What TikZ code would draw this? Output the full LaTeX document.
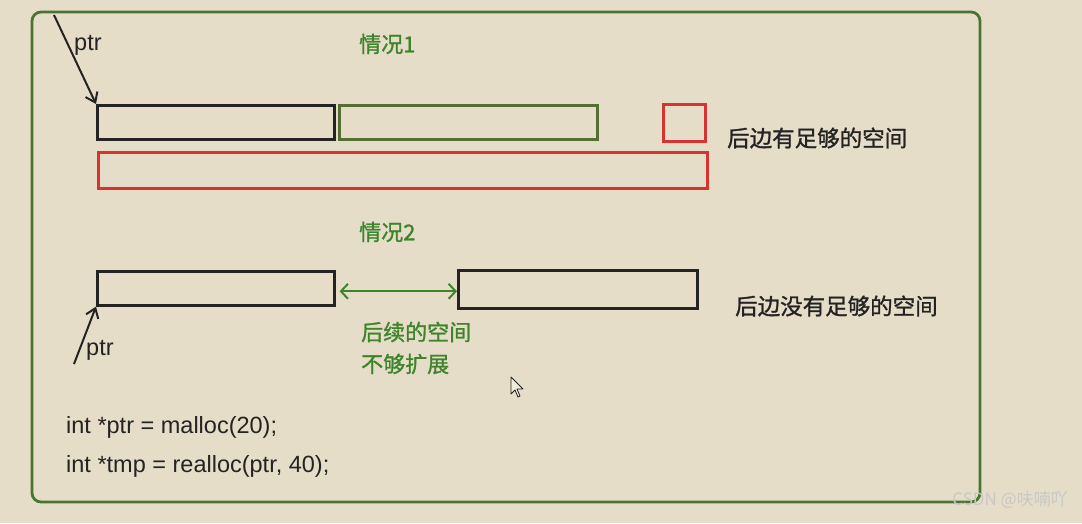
\documentclass[tikz,border=0pt]{standalone}
\usepackage{fontspec}
\setmainfont{Liberation Sans}
\newfontfamily\cjk[FakeBold=1.2]{Noto Sans CJK SC}
\newfontfamily\cjkthin{Noto Sans CJK SC}
\usetikzlibrary{arrows.meta}
\definecolor{bg}{RGB}{229,221,199}
\definecolor{frameg}{RGB}{72,118,50}
\definecolor{boxg}{RGB}{84,110,52}
\definecolor{txtg}{RGB}{62,132,44}
\definecolor{redb}{RGB}{214,52,48}
\definecolor{ink}{RGB}{35,35,35}
\definecolor{wmark}{RGB}{200,200,200}
\tikzset{
  box/.style={draw=ink, line width=2.6pt, inner sep=0pt, anchor=north west},
  gbox/.style={box, draw=boxg},
  rbox/.style={box, draw=redb},
  cjklabel/.style={font=\cjk\fontsize{22.5}{26}\selectfont, text=ink, anchor=west, inner sep=0pt},
  greenlabel/.style={font=\cjk\fontsize{22}{26}\selectfont, text=txtg, anchor=west, inner sep=0pt},
  latin/.style={font=\fontsize{23.5}{26}\selectfont, text=ink, anchor=west, inner sep=0pt},
  ptrarrow/.style={draw=ink, line width=2pt, -{Straight Barb[length=9pt,width=13pt]}},
  gap/.style={draw=txtg, line width=2pt, {Straight Barb[length=7pt,width=15pt]}-{Straight Barb[length=7pt,width=15pt]}}
}
\begin{document}
\begin{tikzpicture}[x=1pt,y=-1pt]
\fill[bg] (0,0) rectangle (1082,523);
\useasboundingbox (0,0) rectangle (1082,523);
% outer frame
\draw[frameg, line width=2.8pt, rounded corners=9pt] (32,12) rectangle (980,502);
% case 1
\node[greenlabel] (c1) at (359,44) {情况1};
\node[box, minimum width=237pt, minimum height=34pt] (b1a) at (96,104) {};
\node[gbox, minimum width=258pt, minimum height=34pt] (b1b) at (338,104) {};
\node[rbox, minimum width=42pt, minimum height=37pt] (b1c) at (662,103) {};
\node[rbox, minimum width=609pt, minimum height=36pt] (b1d) at (97,151) {};
\node[cjklabel] (t1) at (727,138) {后边有足够的空间};
\coordinate (p1s) at (54,15);
\node[latin] (p1) at (74,45) {ptr};
\draw[ptrarrow] (p1s) -- (b1a.north west);
% case 2
\node[greenlabel] (c2) at (359,232) {情况2};
\node[box, minimum width=237pt, minimum height=34pt] (b2a) at (96,270) {};
\node[box, minimum width=239pt, minimum height=38pt] (b2b) at (457,269) {};
\draw[gap] ([xshift=4pt,yshift=-3pt]b2a.east) -- ([yshift=-3pt]b2a.east -| b2b.west);
\node[greenlabel] (g1) at (361,332) {后续的空间};
\node[greenlabel] (g2) at (361,364) {不够扩展};
\node[cjklabel] (t2) at (735,306) {后边没有足够的空间};
\coordinate (p2s) at (74,364);
\node[latin] (p2) at (86,350) {ptr};
\draw[ptrarrow] (p2s) -- (b2a.south west);
% code
\node[latin] (code1) at (66,427) {int *ptr = malloc(20);};
\node[latin] (code2) at (66,466) {int *tmp = realloc(ptr, 40);};
% mouse cursor
\draw[ink, fill=bg!60!white, line width=0.8pt, line join=round]
  (511,377) -- (511,394) -- (515,390) -- (518,397) -- (520,396) -- (517,389) -- (523,389) -- cycle;
% watermark
\node[font=\cjkthin\fontsize{17}{20}\selectfont, text=wmark, anchor=east, inner sep=0pt] (wm) at (1068,500) {CSDN @呋喃吖};
\end{tikzpicture}
\end{document}
